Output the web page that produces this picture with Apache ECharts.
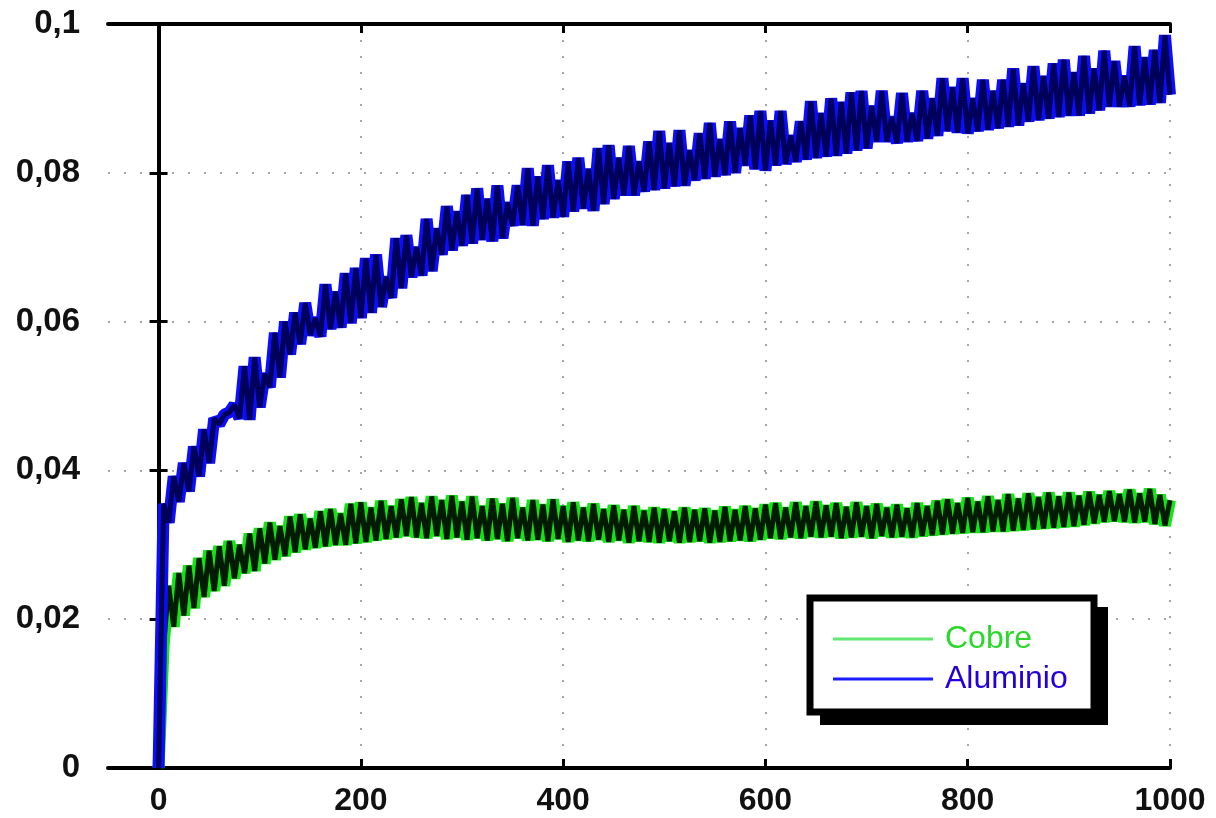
<!DOCTYPE html>
<html>
<head>
<meta charset="utf-8">
<title>Cobre / Aluminio</title>
<script src="https://cdn.jsdelivr.net/npm/echarts@6/dist/echarts.min.js"></script>
<style>
    html, body { margin: 0; padding: 0; background: #fff; }
    #chart { width: 1216px; height: 818px; }
</style>
</head>
<body>
<div id="chart"></div>
<script>
// paso de muestreo en el eje x (una muestra cada 5 unidades, de 0 a 1000)
var PASO = 5;

var marcasX = [0, 200, 400, 600, 800, 1000];

// valores, x = 0, 5, 10, ... 1000
var cobre = [
    0, 0.0165, 0.0245, 0.0190, 0.0262, 0.0205, 0.0272, 0.0215, 0.0282, 0.0230,
    0.0292, 0.0238, 0.0298, 0.0245, 0.0305, 0.0255, 0.0300, 0.0262, 0.0315, 0.0265,
    0.0322, 0.0275, 0.0330, 0.0280, 0.0325, 0.0285, 0.0338, 0.0290, 0.0341, 0.0294,
    0.0335, 0.0296, 0.0345, 0.0298, 0.0348, 0.0300, 0.0342, 0.0300, 0.0355, 0.0302,
    0.0357, 0.0304, 0.0350, 0.0306, 0.0359, 0.0308, 0.0352, 0.0310, 0.0361, 0.0312,
    0.0364, 0.0310, 0.0356, 0.0309, 0.0365, 0.0312, 0.0360, 0.0308, 0.0366, 0.0310,
    0.0358, 0.0307, 0.0365, 0.0309, 0.0352, 0.0306, 0.0362, 0.0308, 0.0355, 0.0305,
    0.0363, 0.0309, 0.0350, 0.0306, 0.0360, 0.0307, 0.0354, 0.0305, 0.0361, 0.0308,
    0.0352, 0.0304, 0.0357, 0.0306, 0.0350, 0.0305, 0.0355, 0.0307, 0.0348, 0.0304,
    0.0353, 0.0306, 0.0347, 0.0303, 0.0352, 0.0305, 0.0346, 0.0304, 0.0350, 0.0303,
    0.0348, 0.0305, 0.0345, 0.0303, 0.0350, 0.0304, 0.0347, 0.0305, 0.0349, 0.0303,
    0.0346, 0.0304, 0.0351, 0.0305, 0.0347, 0.0306, 0.0352, 0.0305, 0.0349, 0.0307,
    0.0354, 0.0309, 0.0356, 0.0308, 0.0350, 0.0310, 0.0357, 0.0309, 0.0352, 0.0311,
    0.0358, 0.0310, 0.0353, 0.0311, 0.0356, 0.0309, 0.0351, 0.0310, 0.0357, 0.0311,
    0.0352, 0.0309, 0.0355, 0.0312, 0.0350, 0.0310, 0.0354, 0.0311, 0.0349, 0.0310,
    0.0356, 0.0312, 0.0352, 0.0313, 0.0359, 0.0314, 0.0361, 0.0315, 0.0356, 0.0316,
    0.0363, 0.0317, 0.0358, 0.0317, 0.0365, 0.0318, 0.0360, 0.0318, 0.0368, 0.0319,
    0.0362, 0.0320, 0.0369, 0.0321, 0.0364, 0.0322, 0.0370, 0.0323, 0.0365, 0.0324,
    0.0370, 0.0325, 0.0366, 0.0327, 0.0371, 0.0329, 0.0367, 0.0331, 0.0372, 0.0332,
    0.0368, 0.0331, 0.0374, 0.0330, 0.0369, 0.0331, 0.0375, 0.0328, 0.0367, 0.0326,
    0.0360
];

var aluminio = [
    0, 0.0355, 0.0330, 0.0392, 0.0358, 0.0410, 0.0372, 0.0432, 0.0392, 0.0455,
    0.0410, 0.0470, 0.0462, 0.0475, 0.0478, 0.0488, 0.0470, 0.0540, 0.0468, 0.0552,
    0.0485, 0.0530, 0.0512, 0.0585, 0.0525, 0.0600, 0.0556, 0.0612, 0.0570, 0.0625,
    0.0582, 0.0605, 0.0580, 0.0650, 0.0590, 0.0640, 0.0592, 0.0665, 0.0598, 0.0672,
    0.0605, 0.0685, 0.0612, 0.0690, 0.0620, 0.0660, 0.0632, 0.0712, 0.0645, 0.0716,
    0.0660, 0.0700, 0.0662, 0.0738, 0.0668, 0.0725, 0.0690, 0.0755, 0.0696, 0.0748,
    0.0702, 0.0770, 0.0705, 0.0779, 0.0710, 0.0765, 0.0708, 0.0783, 0.0712, 0.0760,
    0.0729, 0.0783, 0.0730, 0.0806, 0.0729, 0.0795, 0.0738, 0.0810, 0.0740, 0.0790,
    0.0741, 0.0815, 0.0748, 0.0820, 0.0752, 0.0805, 0.0749, 0.0833, 0.0758, 0.0837,
    0.0765, 0.0820, 0.0770, 0.0836, 0.0770, 0.0815, 0.0775, 0.0842, 0.0777, 0.0856,
    0.0779, 0.0840, 0.0782, 0.0857, 0.0783, 0.0830, 0.0790, 0.0853, 0.0792, 0.0867,
    0.0795, 0.0845, 0.0797, 0.0869, 0.0800, 0.0860, 0.0810, 0.0877, 0.0805, 0.0883,
    0.0803, 0.0870, 0.0810, 0.0883, 0.0812, 0.0850, 0.0815, 0.0869, 0.0818, 0.0896,
    0.0820, 0.0880, 0.0822, 0.0900, 0.0823, 0.0895, 0.0826, 0.0908, 0.0830, 0.0910,
    0.0833, 0.0890, 0.0842, 0.0910, 0.0842, 0.0875, 0.0840, 0.0907, 0.0842, 0.0880,
    0.0843, 0.0910, 0.0846, 0.0900, 0.0850, 0.0927, 0.0856, 0.0915, 0.0854, 0.0927,
    0.0853, 0.0900, 0.0856, 0.0925, 0.0858, 0.0910, 0.0860, 0.0925, 0.0862, 0.0940,
    0.0864, 0.0920, 0.0869, 0.0943, 0.0871, 0.0930, 0.0873, 0.0947, 0.0875, 0.0952,
    0.0877, 0.0935, 0.0877, 0.0957, 0.0880, 0.0940, 0.0884, 0.0964, 0.0889, 0.0950,
    0.0889, 0.0930, 0.0889, 0.0970, 0.0891, 0.0955, 0.0892, 0.0965, 0.0894, 0.0985,
    0.0905
];

var toXY = function (vals) {
    return vals.map(function (v, i) { return [i * PASO, v]; });
};

var fuente = 'Liberation Sans';

var ejeX = function (pos, labels) {
    return {
        type: 'value',
        position: pos,
        min: -50,
        max: 1000,
        axisLine: { show: true, onZero: false, lineStyle: { color: '#000', width: 4 } },
        axisTick: { show: true, inside: true, length: 9, customValues: marcasX, lineStyle: { color: '#000', width: 3 } },
        axisLabel: {
            show: labels,
            customValues: marcasX,
            margin: 17,
            color: '#111',
            fontFamily: fuente,
            fontWeight: 'bold',
            fontSize: 32,
            formatter: function (v) { return String(v); }
        },
        splitLine: {
            show: labels,
            lineStyle: { color: '#888', width: 1.5, type: [2, 14] }
        }
    };
};

var ejeY = function (pos, labels) {
    return {
        type: 'value',
        position: pos,
        min: 0,
        max: 0.1,
        interval: 0.02,
        axisLine: { show: true, lineStyle: { color: '#000', width: 4 } },
        axisTick: { show: true, inside: true, length: 9, lineStyle: { color: '#000', width: 3 } },
        axisLabel: {
            show: labels,
            margin: 28,
            color: '#111',
            fontFamily: fuente,
            fontWeight: 'bold',
            fontSize: 33,
            formatter: function (v) {
                if (v === 0) return '0';
                return String(+v.toFixed(2)).replace('.', ',');
            }
        },
        splitLine: {
            show: labels,
            lineStyle: { color: '#888', width: 1.5, type: [2, 14] }
        }
    };
};

var linea = function (name, data, color, width, z) {
    return {
        name: name,
        type: 'line',
        data: data,
        symbol: 'none',
        silent: true,
        animation: false,
        z: z,
        itemStyle: { color: color },
        lineStyle: { color: color, width: width, join: 'bevel' }
    };
};

var chart = echarts.init(document.getElementById('chart'));

var option = {
    backgroundColor: '#fff',
    animation: false,
    grid: { left: 108, right: 46, top: 24, bottom: 50 },
    xAxis: [ejeX('bottom', true), ejeX('top', false)],
    yAxis: [ejeY('left', true), ejeY('right', false)],
    // marco de la leyenda con sombra negra desplazada
    graphic: [
        {
            type: 'rect',
            z: 10,
            silent: true,
            shape: { x: 820, y: 607, width: 288, height: 118 },
            style: { fill: '#000' }
        },
        {
            type: 'rect',
            z: 11,
            silent: true,
            shape: { x: 810, y: 598, width: 284, height: 114 },
            style: { fill: '#fff', stroke: '#000', lineWidth: 7 }
        }
    ],
    legend: {
        orient: 'vertical',
        left: 810,
        top: 598,
        z: 20,
        padding: [24, 20, 17, 23],
        itemGap: 6,
        itemWidth: 100,
        itemHeight: 3,
        borderWidth: 0,
        textStyle: { fontFamily: fuente, fontSize: 32, lineHeight: 34, padding: [0, 0, 0, 7] },
        data: [
            { name: 'Cobre', icon: 'rect', itemStyle: { color: '#62e870' }, textStyle: { color: '#2ad82a' } },
            { name: 'Aluminio', icon: 'rect', itemStyle: { color: '#1c1cff' }, textStyle: { color: '#2200dd' } }
        ]
    },
    series: [
        linea('Cobre', toXY(cobre), '#12e612', 12, 2),
        linea('Cobre', toXY(cobre), '#031a03', 5, 3),
        linea('Aluminio', toXY(aluminio), '#0c0cff', 12, 4),
        linea('Aluminio', toXY(aluminio), '#00005a', 5, 5)
    ]
};

chart.setOption(option);
</script>
</body>
</html>
